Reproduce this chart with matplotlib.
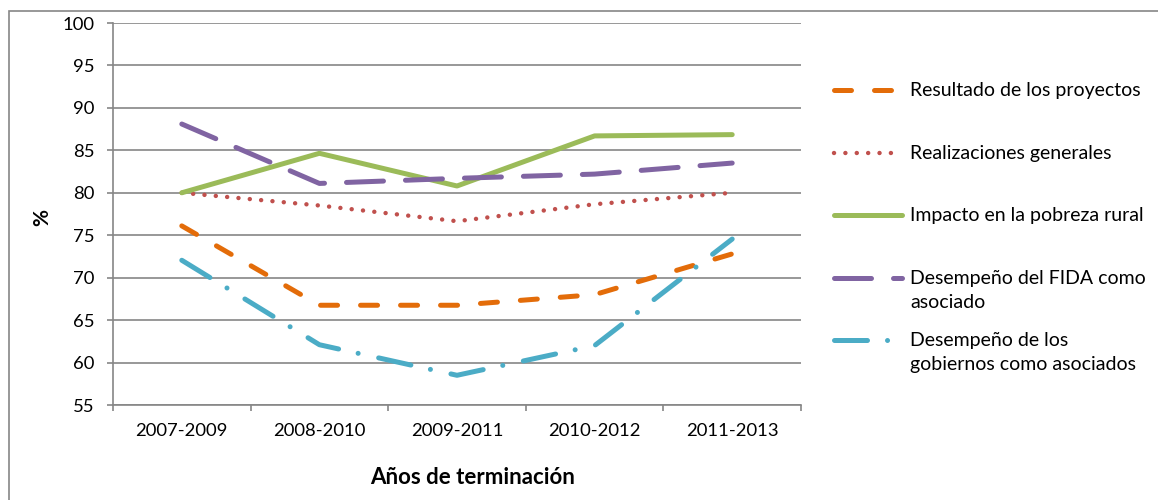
import matplotlib
matplotlib.use("Agg")
import matplotlib.pyplot as plt
from matplotlib.lines import Line2D
from matplotlib.patches import Rectangle

plt.rcParams['font.family'] = ['Lato', 'DejaVu Sans']

categories = ["2007-2009", "2008-2010", "2009-2011", "2010-2012", "2011-2013"]
resultado = [76.1, 66.75, 66.75, 68.0, 72.8]
realizaciones = [80.0, 78.5, 76.65, 78.65, 80.0]
impacto = [80.0, 84.65, 80.8, 86.7, 86.85]
fida = [88.1, 81.1, 81.7, 82.2, 83.5]
gobiernos = [72.05, 62.1, 58.5, 62.0, 74.55]
labels = ["Resultado de los proyectos", "Realizaciones generales",
          "Impacto en la pobreza rural", "Desempeño del FIDA como\nasociado",
          "Desempeño de los\ngobiernos como asociados"]
yticks = [55, 60, 65, 70, 75, 80, 85, 90, 95, 100]

W, H = 1158, 500
fig = plt.figure(figsize=(W / 100, H / 100), dpi=100)
ax = fig.add_axes([113 / W, 1 - 405 / H, (801 - 113) / W, (405 - 23) / H])

gray = "#868686"
styles = [
    dict(color="#E36C09", lw=3.6, ls=(0, (3.4, 4.6))),
    dict(color="#C0504D", lw=3.2, ls=(0, (0.01, 2.55))),
    dict(color="#9BBB59", lw=3.6, ls="-"),
    dict(color="#8064A2", lw=3.6, ls=(0, (7.4, 4.4))),
    dict(color="#4BACC6", lw=3.6, ls=(0, (6.6, 4.0, 0.01, 4.2))),
]
series = [resultado, realizaciones, impacto, fida, gobiernos]
x = list(range(len(categories)))
for vals, st in zip(series, styles):
    ax.plot(x, vals, color=st["color"], lw=st["lw"], linestyle=st["ls"],
            dash_capstyle="round", solid_capstyle="round",
            solid_joinstyle="round", dash_joinstyle="round", zorder=3)

ax.set_xlim(-0.5, len(categories) - 0.5)
ax.set_ylim(55, 100)
ax.set_yticks(yticks)
ax.set_yticklabels([str(v) for v in yticks], fontsize=13.3)
ax.set_xticks([i - 0.5 for i in range(len(categories) + 1)])
ax.set_xticklabels([])
ax.set_xticks(x, minor=True)
ax.set_xticklabels(categories, minor=True, fontsize=13.3)
ax.tick_params(axis="x", which="minor", length=0, pad=13)
ax.tick_params(axis="x", which="major", length=4.5, width=1.2, color=gray, direction="out")
ax.tick_params(axis="y", length=4.5, width=1.2, color=gray, direction="out", pad=9)
ax.grid(axis="y", color=gray, lw=1.2, zorder=0)
ax.set_axisbelow(True)
for s in ["top", "right"]:
    ax.spines[s].set_visible(False)
for s in ["left", "bottom"]:
    ax.spines[s].set_color(gray)
    ax.spines[s].set_linewidth(1.2)

fig.text(42 / W, 1 - 218 / H, "%", rotation=90, fontsize=15, fontweight="bold",
         ha="center", va="center")
fig.text(473 / W, 1 - 478 / H, "Años de terminación", fontsize=16, fontweight="bold",
         ha="center", va="center")

# outer chart frame
fig.add_artist(Rectangle((9 / W, -0.1), 1.2, 1.1 - 11 / H, transform=fig.transFigure,
                         fill=False, edgecolor=gray, lw=1.2))

# legend
leg_y = [90, 152.7, 215, 278, 340]
for yy, st, lab in zip(leg_y, styles, labels):
    fig.add_artist(Line2D([834 / W, 902 / W], [1 - yy / H, 1 - yy / H],
                          transform=fig.transFigure, color=st["color"], lw=st["lw"],
                          linestyle=st["ls"], dash_capstyle="round",
                          solid_capstyle="round"))
    fig.text(910 / W, 1 - (yy - 8) / H, lab, fontsize=14, ha="left", va="top",
             linespacing=1.5)

fig.savefig("out.png", dpi=100)
